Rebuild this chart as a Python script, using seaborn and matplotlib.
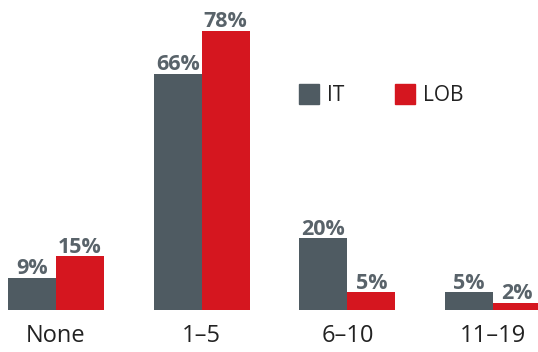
import matplotlib
matplotlib.use("Agg")
import matplotlib.pyplot as plt
import seaborn as sns
import pandas as pd
from matplotlib.patches import Patch

categories = ["None", "1–5", "6–10", "11–19"]
it_values = [9, 66, 20, 5]
lob_values = [15, 78, 5, 2]
series_names = ["IT", "LOB"]

colors = {"IT": "#4f5b62", "LOB": "#d5161f"}
label_color = "#59636a"

sns.set_theme(style="white")
plt.rcParams["font.family"] = ["Open Sans", "DejaVu Sans"]

df = pd.DataFrame({
    "category": categories * 2,
    "series": [series_names[0]] * len(categories) + [series_names[1]] * len(categories),
    "value": it_values + lob_values,
})

W, H = 538, 352
fig = plt.figure(figsize=(W / 100, H / 100), dpi=100)
ax = fig.add_axes([0, 42 / H, 1, 310 / H])

sns.barplot(data=df, x="category", y="value", hue="series", order=categories,
            hue_order=series_names, palette=colors, saturation=1, width=0.66,
            linewidth=0, ax=ax, legend=False)

unit = 145.7
ax.set_xlim(-56 / unit, (W - 56) / unit)
ax.set_ylim(0, 78 * 310 / 279)

for cont in ax.containers:
    ax.bar_label(cont, labels=[f"{v:.0f}%" for v in cont.datavalues], padding=-1,
                 fontsize=15.5, fontweight="bold", color=label_color)

ax.set_xlabel("")
ax.set_ylabel("")
ax.set_yticks([])
ax.tick_params(axis="x", length=0, labelsize=17, colors="#222222", pad=10)
for s in ax.spines.values():
    s.set_visible(False)

handles = [Patch(color=colors[n], label=n) for n in series_names]
leg = fig.legend(handles=handles, loc="center left", bbox_to_anchor=(299 / W, 1 - 95 / H),
                 ncol=2, frameon=False, fontsize=15, handlelength=0.96, handleheight=1.1,
                 handletextpad=0.4, columnspacing=2.4, borderaxespad=0, borderpad=0)
for t in leg.get_texts():
    t.set_color("#222222")

fig.savefig("out.png", dpi=100)
